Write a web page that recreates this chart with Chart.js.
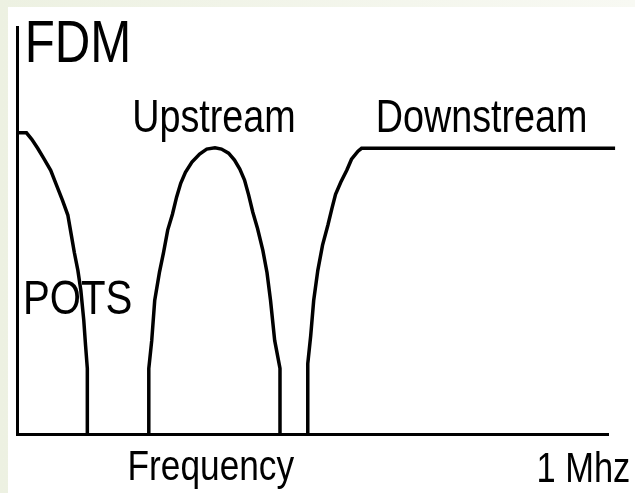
<!DOCTYPE html>
<html>
<head>
<meta charset="utf-8">
<script src="https://cdn.jsdelivr.net/npm/chart.js@4"></script>
<style>
  html, body {
    margin: 0;
    padding: 0;
    width: 635px;
    height: 493px;
    overflow: hidden;
    background: linear-gradient(to right, #edf1e2, #f8f9f3);
  }
  .panel {
    position: absolute;
    left: 8px;
    top: 7px;
    right: 0;
    bottom: 0;
    background: #fff;
  }
  canvas {
    position: absolute;
    left: 0;
    top: 0;
  }
</style>
</head>
<body>
<div class="panel"></div>
<canvas id="fdmChart" width="635" height="493"></canvas>
<script>
// Frequency axis: 0 .. 1000 kHz (1 MHz), level axis: 0 .. 100
const potsX = [0, 16, 25, 35, 45, 57, 67, 77, 86, 92, 97, 103, 108, 113, 116, 119, 119];
const potsY = [74, 74, 72.4, 70.2, 67.8, 64.8, 61.1, 57.4, 53.8, 48.8, 44.6, 40.2, 35.3, 27.9, 21.8, 16.1, 0];

const upX = [223, 223, 228, 233, 241, 248, 255, 263, 270, 277, 285, 296, 309, 321, 335, 346, 358, 368, 377, 385, 392, 399, 407, 416, 423, 429, 436, 445, 445];
const upY = [0, 16.1, 23, 32.8, 39.7, 44.6, 50.1, 54, 58.2, 61.6, 64.3, 66.8, 68.8, 70, 70.3, 70, 69, 67.3, 65.1, 62.4, 58.7, 54.5, 50.5, 45.1, 39.7, 32.8, 23, 16.1, 0];

const downX = [492, 492, 497, 502, 509, 517, 526, 533, 539, 548, 558, 566, 577, 583, 1012];
const downY = [0, 17.3, 24.2, 32.8, 40.2, 46.4, 51.3, 55.5, 58.9, 61.9, 64.8, 67.5, 69.5, 70.2, 70.2];

// Text labels, placed in the same data units
const labelText = ["FDM", "Upstream", "Downstream", "POTS", "Frequency", "1 Mhz"];
const labelX = [13, 195, 607, 10, 187, 879];
const labelY = [91.4, 74.2, 74.2, 29.6, -11.4, -11.9];
const labelSize = [60, 46, 46, 49, 43, 42];

const FONT = '"Liberation Sans", Arial, sans-serif';
const NARROW = 0.82; // squeeze like a narrow face

function toPoints(xs, ys) {
  return xs.map((x, i) => ({ x: x, y: ys[i] }));
}

function makeSeries(label, xs, ys) {
  return {
    label: label,
    data: toPoints(xs, ys),
    borderColor: "#000",
    borderWidth: 3.5,
    pointRadius: 0,
    tension: 0,
    fill: false,
    clip: false,
  };
}

// draws the text labels through the chart scales
const labelPlugin = {
  id: "labels",
  afterDraw(chart) {
    const ctx = chart.ctx;
    const xs = chart.scales.x;
    const ys = chart.scales.y;
    ctx.save();
    ctx.fillStyle = "#000";
    ctx.textAlign = "left";
    ctx.textBaseline = "alphabetic";
    ctx.scale(NARROW, 1);
    labelText.forEach((t, i) => {
      ctx.font = labelSize[i] + "px " + FONT;
      ctx.fillText(t, xs.getPixelForValue(labelX[i]) / NARROW, ys.getPixelForValue(labelY[i]));
    });
    ctx.restore();
  },
};

const ctx = document.getElementById("fdmChart").getContext("2d");
new Chart(ctx, {
  type: "line",
  data: {
    datasets: [
      makeSeries("POTS", potsX, potsY),
      makeSeries("Upstream", upX, upY),
      makeSeries("Downstream", downX, downY),
    ],
  },
  options: {
    responsive: false,
    animation: false,
    devicePixelRatio: 1,
    layout: {
      padding: { left: 17, top: 27, right: 27, bottom: 59 },
    },
    plugins: {
      legend: { display: false },
      tooltip: { enabled: false },
    },
    scales: {
      x: {
        type: "linear",
        min: 0,
        max: 1000,
        grid: { display: false, drawTicks: false },
        ticks: { display: false },
        border: { display: true, color: "#000", width: 3 },
      },
      y: {
        min: 0,
        max: 100,
        grid: { display: false, drawTicks: false },
        ticks: { display: false },
        border: { display: true, color: "#000", width: 3 },
      },
    },
  },
  plugins: [labelPlugin],
});
</script>
</body>
</html>
